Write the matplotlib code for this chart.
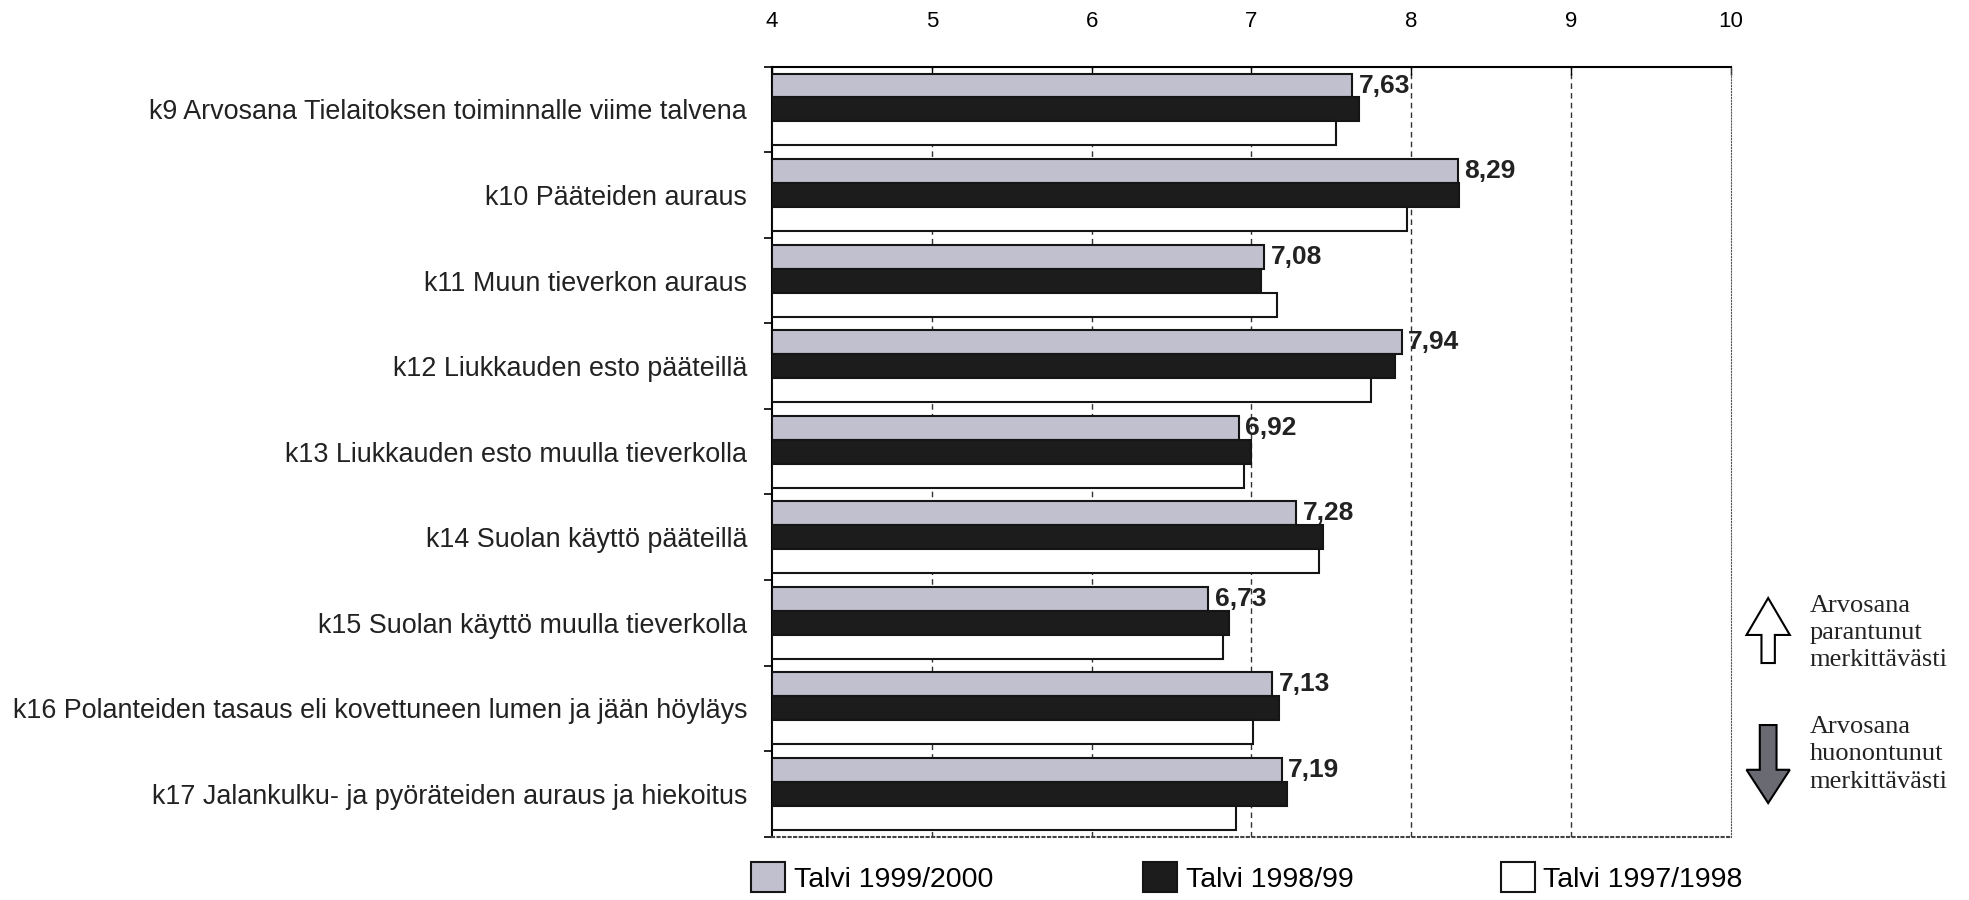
import matplotlib
matplotlib.use("Agg")
import matplotlib.pyplot as plt
import numpy as np
from matplotlib.patches import Patch, FancyArrow

# data
categories = [
    "k9 Arvosana Tielaitoksen toiminnalle viime talvena",
    "k10 Pääteiden auraus",
    "k11 Muun tieverkon auraus",
    "k12 Liukkauden esto pääteillä",
    "k13 Liukkauden esto muulla tieverkolla",
    "k14 Suolan käyttö pääteillä",
    "k15 Suolan käyttö muulla tieverkolla",
    "k16 Polanteiden tasaus eli kovettuneen lumen ja jään höyläys",
    "k17 Jalankulku- ja pyöräteiden auraus ja hiekoitus",
]
talvi_1999_2000 = [7.63, 8.29, 7.08, 7.94, 6.92, 7.28, 6.73, 7.13, 7.19]
talvi_1998_99 = [7.67, 8.30, 7.06, 7.90, 7.00, 7.45, 6.86, 7.17, 7.22]
talvi_1997_1998 = [7.53, 7.97, 7.16, 7.75, 6.95, 7.42, 6.82, 7.01, 6.90]
series_names = ["Talvi 1999/2000", "Talvi 1998/99", "Talvi 1997/1998"]
x_ticks = [4, 5, 6, 7, 8, 9, 10]

plt.rcParams['font.family'] = ['Liberation Sans', 'DejaVu Sans']
serif = ['Liberation Serif', 'DejaVu Serif']

fig = plt.figure(figsize=(19.69, 9.0), dpi=100)
ax = fig.add_axes([0.3921, 0.0703, 0.4870, 0.8556])

y = np.arange(len(categories))
h = 0.28
colors = ['#c0c0ce', '#1c1c1c', '#ffffff']
series = [talvi_1999_2000, talvi_1998_99, talvi_1997_1998]
for i, (vals, c) in enumerate(zip(series, colors)):
    ax.barh(y + (i - 1) * h, [v - 4 for v in vals], left=4, height=h,
            color=c, edgecolor='#151515', linewidth=1.5, zorder=3)

for yi, v in zip(y, talvi_1999_2000):
    ax.text(v + 0.04, yi - h, f"{v:.2f}".replace('.', ','), va='center',
            ha='left', fontsize=19, fontweight='bold', color='#222222', zorder=4)

ax.set_xlim(4, 10)
ax.set_ylim(len(categories) - 0.5, -0.5)
ax.set_xticks(x_ticks)
ax.set_xticklabels([str(t) for t in x_ticks], fontsize=16)
ax.xaxis.tick_top()
ax.tick_params(axis='x', direction='in', length=6, pad=25, width=1)
ax.set_yticks(y)
ax.set_yticklabels(categories, fontsize=19.4, color='#222222')
ax.tick_params(axis='y', which='major', length=0, pad=18)
ax.set_yticks(np.arange(len(categories) + 1) - 0.5, minor=True)
ax.tick_params(axis='y', which='minor', direction='out', length=6, width=1.2)

for gx in [5, 6, 7, 8, 9]:
    ax.axvline(gx, color='#333333', linestyle=(0, (4, 3)), linewidth=1, zorder=1)

ax.spines['top'].set_linewidth(1.5)
ax.spines['left'].set_linewidth(1.5)
ax.spines['right'].set_linestyle(':')
ax.spines['right'].set_color('#555555')
ax.spines['bottom'].set_linestyle(':')
ax.spines['bottom'].set_color('#444444')
ax.spines['bottom'].set_linewidth(1.5)

# legend entries spaced like the original
for c, name, lx in zip(colors, series_names, [0.3814, 0.5804, 0.7621]):
    fig.legend([Patch(facecolor=c, edgecolor='#151515', linewidth=1.5)], [name],
               loc='center left', bbox_to_anchor=(lx, 0.025), frameon=False,
               fontsize=20.5, handlelength=1.2, handleheight=1.2,
               handletextpad=0.3, borderpad=0, borderaxespad=0)

# significance arrows legend
fig.patches.append(FancyArrow(0.898, 0.2633, 0, 0.0722, width=0.0068,
                              head_width=0.022, head_length=0.041,
                              length_includes_head=True, transform=fig.transFigure,
                              facecolor='white', edgecolor='black', linewidth=1.5))
fig.patches.append(FancyArrow(0.898, 0.1944, 0, -0.0867, width=0.0085,
                              head_width=0.022, head_length=0.037,
                              length_includes_head=True, transform=fig.transFigure,
                              facecolor='#6a6a72', edgecolor='black', linewidth=1.5))
fig.text(0.919, 0.2967, "Arvosana\nparantunut\nmerkittävästi", fontsize=19,
         family=serif, va='center', ha='left', linespacing=1.32, color='#222222')
fig.text(0.919, 0.1617, "Arvosana\nhuonontunut\nmerkittävästi", fontsize=19,
         family=serif, va='center', ha='left', linespacing=1.32, color='#222222')

fig.savefig("out.png", dpi=100)
